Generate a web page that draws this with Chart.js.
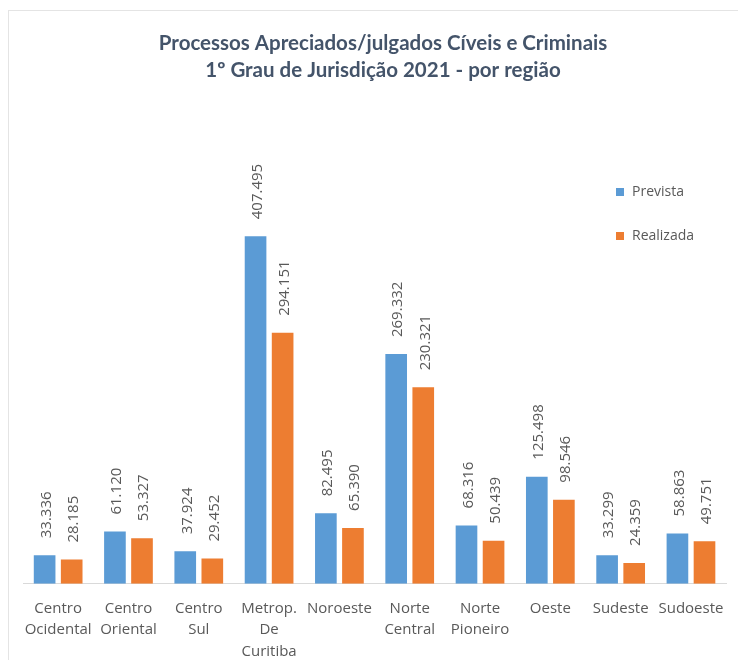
<!DOCTYPE html>
<html>
<head>
<meta charset="utf-8">
<script src="https://cdn.jsdelivr.net/npm/chart.js@4"></script>
<style>
  body { margin: 0; background: #ffffff; }
  canvas { display: block; }
</style>
</head>
<body>
<canvas id="grafico" width="738" height="660"></canvas>
<script>
// dados
const regioes = [
    ['Centro', 'Ocidental'], ['Centro', 'Oriental'], ['Centro', 'Sul'],
    ['Metrop.', 'De', 'Curitiba'], 'Noroeste', ['Norte', 'Central'],
    ['Norte', 'Pioneiro'], 'Oeste', 'Sudeste', 'Sudoeste'
];
const prevista = [33336, 61120, 37924, 407495, 82495, 269332, 68316, 125498, 33299, 58863];
const realizada = [28185, 53327, 29452, 294151, 65390, 230321, 50439, 98546, 24359, 49751];
const titulo = ['Processos Apreciados/julgados Cíveis e Criminais', '1º Grau de Jurisdição 2021 - por região'];

const corTexto = '#595959';

function formatar(v) {
    return String(v).replace(/\B(?=(\d{3})+(?!\d))/g, '.');
}

// moldura, título, legenda e rótulos de valor
const extras = {
    id: 'extras',
    beforeDraw(chart) {
        const ctx = chart.ctx;
        ctx.save();
        ctx.strokeStyle = '#e4e4e4';
        ctx.lineWidth = 1;
        ctx.strokeRect(8.5, 10.5, 740, 700);
        ctx.restore();
    },
    afterDatasetsDraw(chart) {
        const ctx = chart.ctx;
        ctx.save();
        ctx.font = '15px "Open Sans", sans-serif';
        ctx.fillStyle = corTexto;
        ctx.textAlign = 'left';
        ctx.textBaseline = 'middle';
        chart.data.datasets.forEach((ds, i) => {
            chart.getDatasetMeta(i).data.forEach((bar, j) => {
                ctx.save();
                ctx.translate(bar.x + 2, bar.y - 17);
                ctx.rotate(-Math.PI / 2);
                ctx.fillText(formatar(ds.data[j]), 0, 0);
                ctx.restore();
            });
        });
        ctx.restore();
    },
    afterDraw(chart) {
        const ctx = chart.ctx;
        ctx.save();
        ctx.fillStyle = '#44546A';
        ctx.font = 'bold 20.5px Lato, sans-serif';
        ctx.textAlign = 'center';
        ctx.textBaseline = 'middle';
        titulo.forEach((t, i) => ctx.fillText(t, 383, 43 + i * 27));

        ctx.font = '14px "Open Sans", sans-serif';
        ctx.textAlign = 'left';
        chart.data.datasets.forEach((ds, i) => {
            const y = 192 + i * 44;
            ctx.fillStyle = ds.backgroundColor;
            ctx.fillRect(616, y - 4, 8, 8);
            ctx.fillStyle = corTexto;
            ctx.fillText(ds.label, 632, y);
        });
        ctx.restore();
    }
};

new Chart(document.getElementById('grafico'), {
    type: 'bar',
    data: {
        labels: regioes,
        datasets: [
            { label: 'Prevista', data: prevista, backgroundColor: '#5B9BD5' },
            { label: 'Realizada', data: realizada, backgroundColor: '#ED7D31' }
        ]
    },
    options: {
        responsive: false,
        animation: false,
        categoryPercentage: 0.77,
        barPercentage: 0.8,
        layout: { padding: { top: 200, left: 23, right: 11, bottom: -16 } },
        scales: {
            x: {
                grid: { display: true, color: 'rgba(0,0,0,0)', drawTicks: false },
                border: { display: true, color: '#d9d9d9', width: 1 },
                ticks: {
                    color: corTexto,
                    font: { family: '"Open Sans", sans-serif', size: 15, lineHeight: 1.43 },
                    padding: 14,
                    maxRotation: 0,
                    autoSkip: false
                }
            },
            y: { display: false, min: 0, max: 450000 }
        },
        plugins: {
            legend: { display: false },
            title: { display: false },
            tooltip: { enabled: false }
        }
    },
    plugins: [extras]
});
</script>
</body>
</html>
